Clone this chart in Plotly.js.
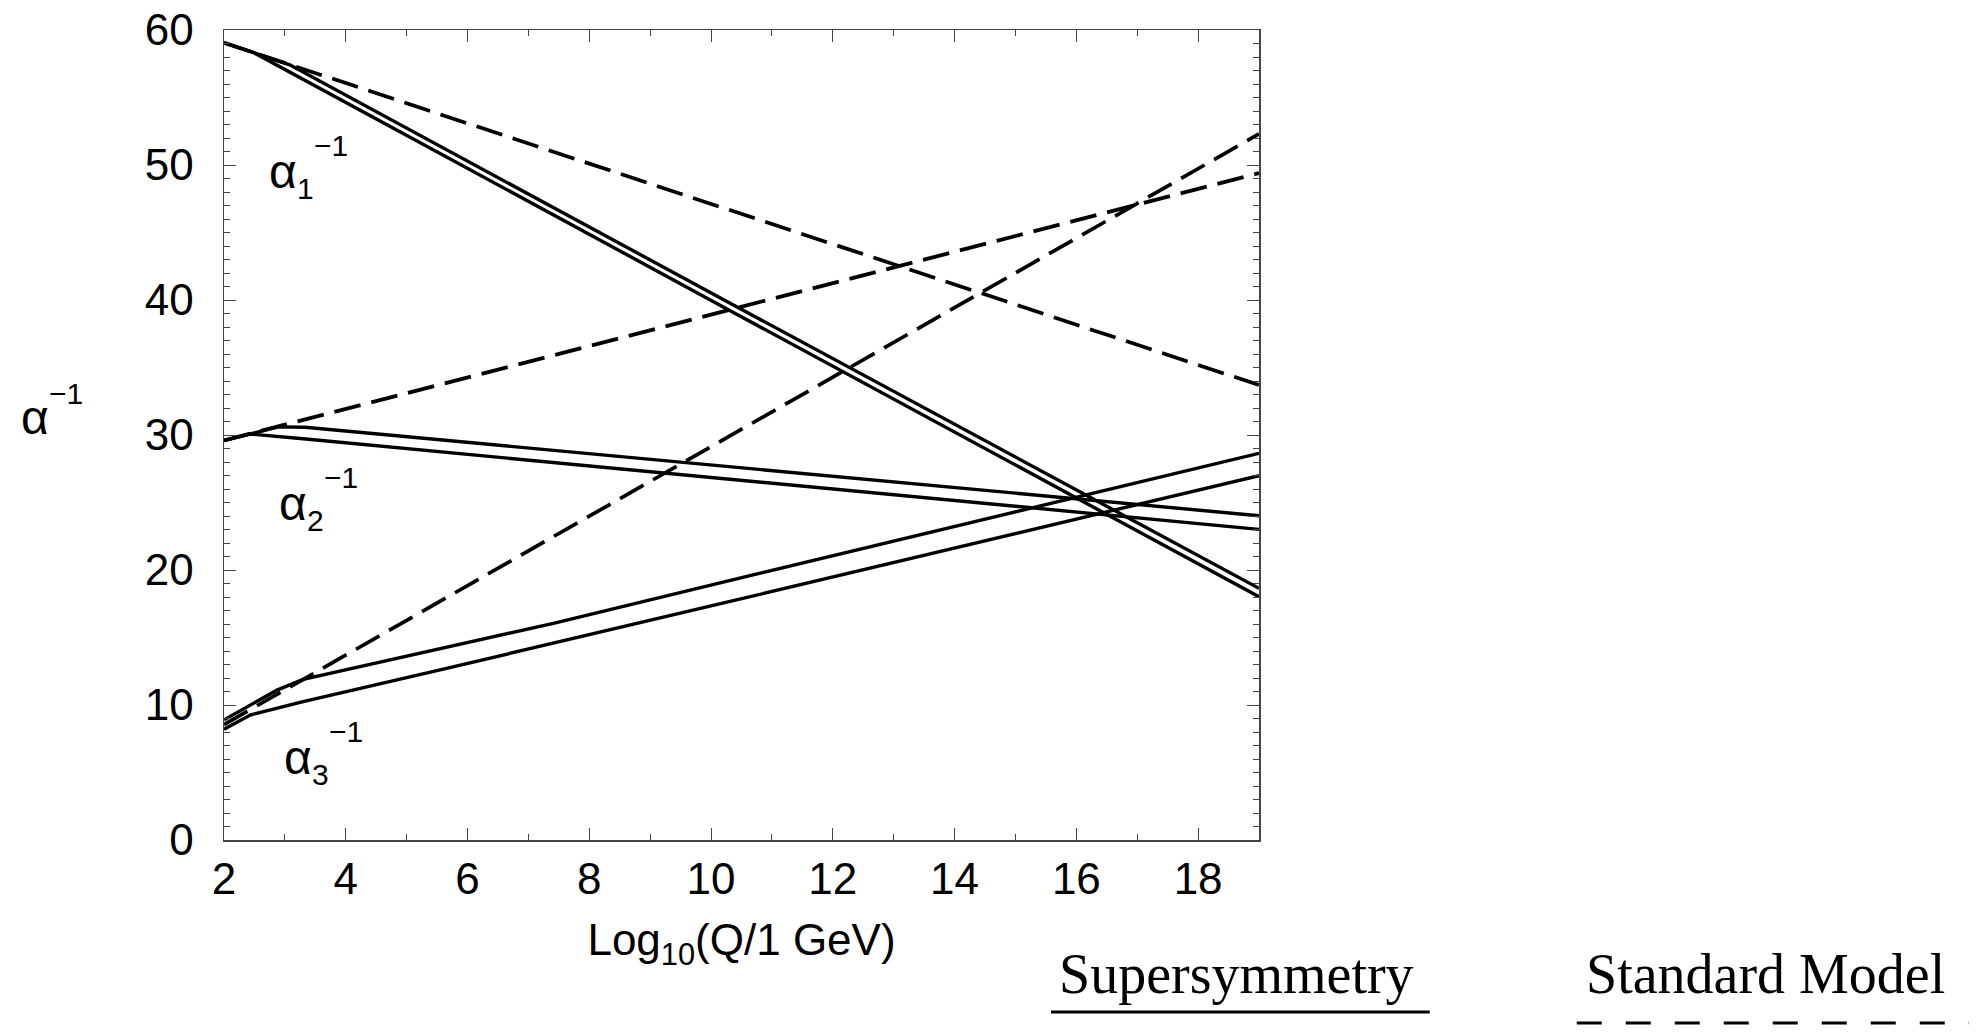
<!DOCTYPE html>
<html><head><meta charset="utf-8">
<script src="https://cdn.plot.ly/plotly-3.0.1.min.js"></script>
<style>html,body{margin:0;padding:0;background:#fff}#chart{width:1984px;height:1033px}</style>
</head><body><div id="chart"></div>
<script>
// ---- Standard Model (dashed) ----
const smX  = [2, 19];
const smA1 = [59.05, 33.7];
const smA2 = [29.6, 49.4];
const smA3 = [8.55, 52.3];

// ---- Supersymmetry (solid, two threshold choices each) ----
const susyA1HiX = [2, 3.08, 10.42, 19];
const susyA1HiY = [59.05, 57.42, 39.5, 18.64];
const susyA1LoX = [2, 2.48, 10.42, 19];
const susyA1LoY = [59.05, 58.35, 38.95, 18.02];

const susyA2HiX = [2, 2.89, 3.33, 10.47, 19];
const susyA2HiY = [29.6, 30.6, 30.57, 27.58, 24.02];
const susyA2LoX = [2, 2.43, 3.3, 10.47, 19];
const susyA2LoY = [29.6, 30.07, 29.72, 26.67, 23.01];

const susyA3HiX = [2, 2.87, 3.3, 7.41, 10.47, 15.95, 19];
const susyA3HiY = [8.9, 11.1, 11.9, 16.05, 19.4, 25.3, 28.64];
const susyA3LoX = [2, 2.43, 3.3, 5.55, 10.47, 19];
const susyA3LoY = [8.2, 9.26, 10.25, 12.6, 17.84, 26.99];

// ---- labels ----
const curveLabelSubs = ['1', '2', '3'];
const curveLabelX = [2.71, 2.87, 2.95];
const curveLabelY = [49.5, 24.9, 6.1];
const xTitle = 'Log<sub>10</sub>(Q/1 GeV)';
const legendNames = ['Supersymmetry', 'Standard Model'];

const SANS = 'Liberation Sans, Arial, Helvetica, sans-serif';
const SERIF = 'Liberation Serif, Times New Roman, serif';

const solid = {color: '#000', width: 3.4, dash: 'solid'};
const dashed = {color: '#000', width: 3.7, dash: '27px,11px'};

function tr(x, y, line, name) {
  return {type: 'scatter', mode: 'lines', x: x, y: y, line: line, name: name,
          showlegend: false, hoverinfo: 'skip'};
}

const traces = [
  tr(smX, smA1, dashed, 'SM α1'),
  tr(smX, smA2, dashed, 'SM α2'),
  tr(smX, smA3, dashed, 'SM α3'),
  tr(susyA1HiX, susyA1HiY, solid, 'SUSY α1'),
  tr(susyA1LoX, susyA1LoY, solid, 'SUSY α1'),
  tr(susyA2HiX, susyA2HiY, solid, 'SUSY α2'),
  tr(susyA2LoX, susyA2LoY, solid, 'SUSY α2'),
  tr(susyA3HiX, susyA3HiY, solid, 'SUSY α3'),
  tr(susyA3LoX, susyA3LoY, solid, 'SUSY α3')
];

const axisCommon = {
  showgrid: false, zeroline: false, showline: true, linecolor: '#444', linewidth: 1.5,
  mirror: 'ticks', ticks: 'inside', ticklen: 12, tickwidth: 1, tickcolor: '#444',
  tickfont: {family: SANS, size: 44, color: '#000'}
};

const alphaFont = {family: SANS, size: 48, color: '#000'};
const small = {family: SANS, size: 30, color: '#000'};

const annotations = [];
curveLabelSubs.forEach((s, i) => {
  const base = {x: curveLabelX[i], y: curveLabelY[i], xref: 'x', yref: 'y',
                xanchor: 'left', yanchor: 'middle', showarrow: false};
  annotations.push(Object.assign({}, base, {text: 'α', font: alphaFont}));
  annotations.push(Object.assign({}, base, {text: s, font: small, xshift: 28, yshift: -17}));
  annotations.push(Object.assign({}, base, {text: '−1', font: small, xshift: 45, yshift: 26}));
});
// y-axis title α^-1 (horizontal)
const yTitleBase = {xref: 'paper', yref: 'paper', x: -0.198, y: 0.521,
                    xanchor: 'left', yanchor: 'middle', showarrow: false};
annotations.push(Object.assign({}, yTitleBase, {text: 'α', font: alphaFont}));
annotations.push(Object.assign({}, yTitleBase, {text: '−1', font: small, xshift: 28, yshift: 24}));

annotations.push({text: legendNames[0], xref: 'paper', yref: 'paper', x: 0.9787, y: -0.165,
  xanchor: 'center', yanchor: 'middle', showarrow: false,
  font: {family: SERIF, size: 56, color: '#000'}});
annotations.push({text: legendNames[1], xref: 'paper', yref: 'paper', x: 1.4894, y: -0.165,
  xanchor: 'center', yanchor: 'middle', showarrow: false,
  font: {family: SERIF, size: 56, color: '#000'}});

const shapes = [
  {type: 'line', xref: 'paper', yref: 'paper', x0: 0.799, x1: 1.165, y0: -0.2123, y1: -0.2123,
   line: {color: '#000', width: 3}},
  {type: 'line', xref: 'paper', yref: 'paper', x0: 1.307, x1: 1.686, y0: -0.2259, y1: -0.2259,
   line: {color: '#000', width: 3, dash: '25px,24px'}}
];

const layout = {
  width: 1984, height: 1033,
  margin: {l: 224, r: 725, t: 30, b: 193, pad: 0},
  paper_bgcolor: '#fff', plot_bgcolor: '#fff',
  showlegend: false,
  xaxis: Object.assign({}, axisCommon, {
    range: [2, 19], dtick: 2, tick0: 2, ticklabelstandoff: 0,
    minor: {dtick: 1, ticklen: 6, ticks: 'inside', tickcolor: '#444', tickwidth: 1},
    title: {text: xTitle, standoff: 22, font: {family: SANS, size: 44, color: '#000'}}
  }),
  yaxis: Object.assign({}, axisCommon, {
    range: [0, 60], dtick: 10, tick0: 0, ticklabelstandoff: 20,
    minor: {dtick: 1, ticklen: 6, ticks: 'inside', tickcolor: '#444', tickwidth: 1}
  }),
  annotations: annotations,
  shapes: shapes
};

Plotly.newPlot('chart', traces, layout, {displayModeBar: false, staticPlot: true});
</script>
</body></html>
